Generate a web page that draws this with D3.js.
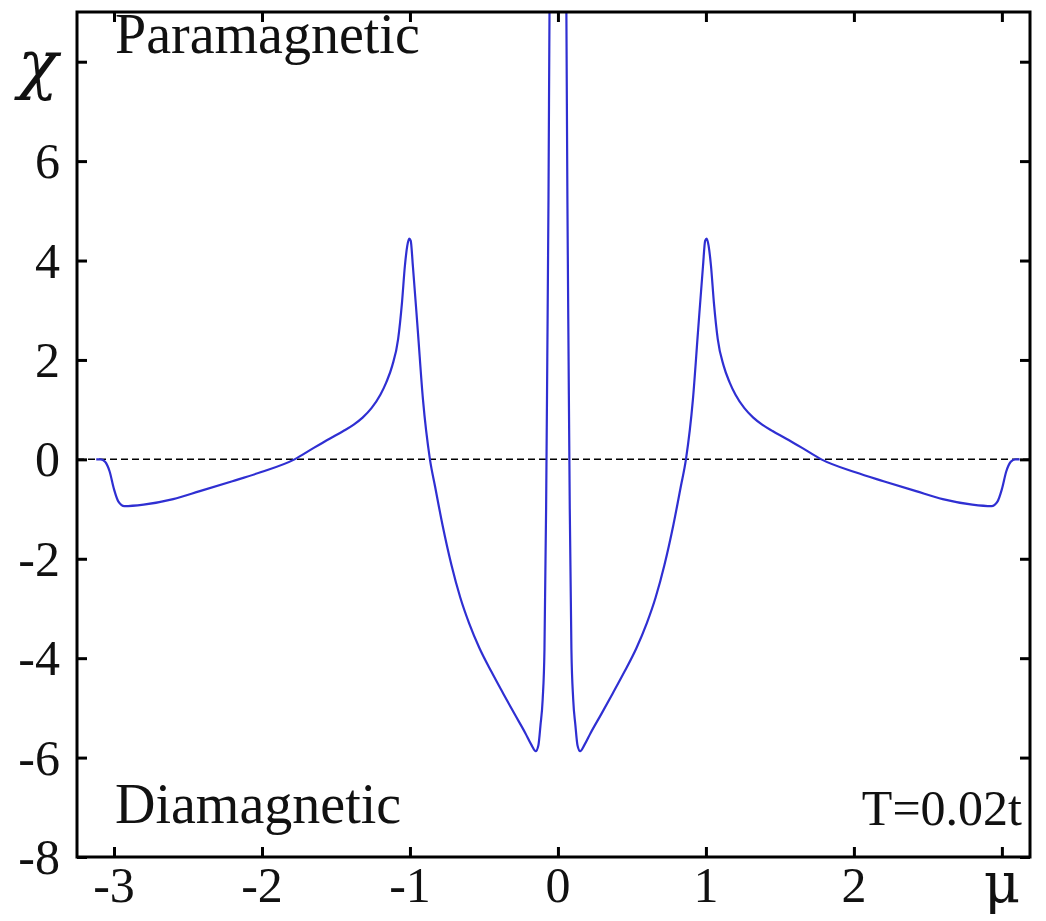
<!DOCTYPE html>
<html>
<head>
<meta charset="utf-8">
<script src="https://cdn.jsdelivr.net/npm/d3@7"></script>
<style>
  html, body { margin: 0; padding: 0; background: #fff; }
  svg { display: block; }
</style>
</head>
<body>
<svg id="chart" width="1046" height="921"></svg>
<script>
// Chemical potential mu (units of t)
const muValues = [
  -3.12, -3.09, -3.06, -3.03, -3.00, -2.97, -2.93, -2.80, -2.60, -2.42, -2.20, -2.01,
  -1.78, -1.65, -1.54, -1.45, -1.38, -1.32, -1.26, -1.20, -1.16, -1.12, -1.08, -1.054, -1.034, -1.018, -1.005,
  -0.995, -0.98, -0.946, -0.912, -0.865,
  -0.83, -0.78, -0.72, -0.66, -0.60, -0.53, -0.45, -0.37, -0.29, -0.22, -0.18,
  -0.15, -0.132, -0.118, -0.103, -0.091, -0.080, -0.072, -0.064, -0.057, -0.050,
  0.050, 0.057, 0.064, 0.072, 0.080, 0.091, 0.103, 0.118, 0.132, 0.15,
  0.18, 0.22, 0.29, 0.37, 0.45, 0.53, 0.60, 0.66, 0.72, 0.78, 0.83,
  0.865, 0.912, 0.946, 0.98, 0.995,
  1.005, 1.018, 1.034, 1.054, 1.08, 1.12, 1.16, 1.20, 1.26, 1.32, 1.38, 1.45, 1.54, 1.65, 1.78,
  2.01, 2.20, 2.42, 2.60, 2.80, 2.93, 2.97, 3.00, 3.03, 3.06, 3.09, 3.12
];
// Orbital susceptibility chi at each mu
const chiValues = [
  0, 0, -0.05, -0.24, -0.60, -0.85, -0.94, -0.91, -0.80, -0.64, -0.44, -0.26,
  0, 0.23, 0.42, 0.57, 0.70, 0.84, 1.03, 1.30, 1.55, 1.88, 2.42, 3.15, 3.90, 4.30, 4.44,
  4.40, 3.88, 2.55, 1.20, 0,
  -0.55, -1.32, -2.12, -2.78, -3.30, -3.80, -4.27, -4.71, -5.14, -5.51, -5.74,
  -5.87, -5.75, -5.35, -4.82, -3.82, -1.00, 2.00, 5.20, 9.00, 12.0,
  12.0, 9.00, 5.20, 2.00, -1.00, -3.82, -4.82, -5.35, -5.75, -5.87,
  -5.74, -5.51, -5.14, -4.71, -4.27, -3.80, -3.30, -2.78, -2.12, -1.32, -0.55,
  0, 1.20, 2.55, 3.88, 4.40,
  4.44, 4.30, 3.90, 3.15, 2.42, 1.88, 1.55, 1.30, 1.03, 0.84, 0.70, 0.57, 0.42, 0.23, 0,
  -0.26, -0.44, -0.64, -0.80, -0.91, -0.94, -0.85, -0.60, -0.24, -0.05, 0, 0
];

const xTickValues = [-3, -2, -1, 0, 1, 2, 3];
const xTickLabels = ["-3", "-2", "-1", "0", "1", "2", "\u03bc"];
const yTickValues = [-8, -6, -4, -2, 0, 2, 4, 6, 8];
const yTickLabels = ["-8", "-6", "-4", "-2", "0", "2", "4", "6", "\u03c7"];

const svg = d3.select("#chart");
const plotL = 77, plotR = 1030, plotT = 12, plotB = 857;

const x = d3.scaleLinear().domain([-3.25, 3.19]).range([plotL, plotR]);
const y = d3.scaleLinear().domain([-8, 9]).range([plotB, plotT]);

const serif = "'Liberation Serif', 'Times New Roman', serif";

svg.append("defs").append("clipPath").attr("id", "plotClip")
  .append("rect").attr("x", plotL).attr("y", plotT)
  .attr("width", plotR - plotL).attr("height", plotB - plotT);

// zero line
svg.append("line")
  .attr("x1", plotL).attr("x2", plotR)
  .attr("y1", y(0)).attr("y2", y(0))
  .attr("stroke", "#000").attr("stroke-width", 1.5)
  .attr("stroke-dasharray", "7,4");

// susceptibility curve
const pts = muValues.map((m, i) => [m, chiValues[i]]);
svg.append("path")
  .datum(pts)
  .attr("clip-path", "url(#plotClip)")
  .attr("fill", "none")
  .attr("stroke", "#2f2fd2")
  .attr("stroke-width", 2.2)
  .attr("stroke-linejoin", "round")
  .attr("d", d3.line().x(d => x(d[0])).y(d => y(d[1])).curve(d3.curveMonotoneX));

// frame with inward ticks on all four sides
const tickLen = 10;
const axBottom = d3.axisTop(x).tickValues(xTickValues).tickSize(tickLen).tickFormat("");
const axTop = d3.axisBottom(x).tickValues(xTickValues).tickSize(tickLen).tickFormat("");
const axLeft = d3.axisRight(y).tickValues(yTickValues).tickSize(tickLen).tickFormat("");
const axRight = d3.axisLeft(y).tickValues(yTickValues).tickSize(tickLen).tickFormat("");

function styleAxis(g) {
  g.select(".domain").remove();
  g.selectAll(".tick line").attr("stroke", "#000").attr("stroke-width", 3);
}
svg.append("g").attr("transform", `translate(0,${plotB})`).call(axBottom).call(styleAxis);
svg.append("g").attr("transform", `translate(0,${plotT})`).call(axTop).call(styleAxis);
svg.append("g").attr("transform", `translate(${plotL},0)`).call(axLeft).call(styleAxis);
svg.append("g").attr("transform", `translate(${plotR},0)`).call(axRight).call(styleAxis);

svg.append("rect")
  .attr("x", plotL).attr("y", plotT)
  .attr("width", plotR - plotL).attr("height", plotB - plotT)
  .attr("fill", "none").attr("stroke", "#000").attr("stroke-width", 3);

// tick labels; the last x tick carries the mu axis symbol, the top y tick the chi symbol
const lastX = xTickValues.length - 1;
svg.append("g").selectAll("text")
  .data(xTickValues)
  .join("text")
  .attr("x", d => x(d))
  .attr("y", 902)
  .attr("text-anchor", "middle")
  .attr("font-family", (d, i) => i === lastX ? "'DejaVu Serif', serif" : serif)
  .attr("font-size", (d, i) => i === lastX ? 56 : 50)
  .attr("fill", "#111")
  .text((d, i) => xTickLabels[i]);

const lastY = yTickValues.length - 1;
svg.append("g").selectAll("text")
  .data(yTickValues)
  .join("text")
  .attr("x", (d, i) => i === lastY ? 38 : 60)
  .attr("y", (d, i) => i === lastY ? y(d) + 24 : y(d) + 17)
  .attr("text-anchor", (d, i) => i === lastY ? "middle" : "end")
  .attr("font-family", (d, i) => i === lastY ? "'DejaVu Serif', serif" : serif)
  .attr("font-style", (d, i) => i === lastY ? "italic" : "normal")
  .attr("font-size", (d, i) => i === lastY ? 66 : 50)
  .attr("fill", "#111")
  .text((d, i) => yTickLabels[i]);

// annotations
const notes = [
  { t: "Paramagnetic", x: 115, y: 53, anchor: "start", size: 56 },
  { t: "Diamagnetic", x: 115, y: 823, anchor: "start", size: 56 },
  { t: "T=0.02t", x: 1022, y: 825, anchor: "end", size: 50 }
];
svg.append("g").selectAll("text")
  .data(notes)
  .join("text")
  .attr("x", d => d.x).attr("y", d => d.y)
  .attr("text-anchor", d => d.anchor)
  .attr("font-family", serif)
  .attr("font-size", d => d.size)
  .attr("fill", "#111")
  .text(d => d.t);
</script>
</body>
</html>
